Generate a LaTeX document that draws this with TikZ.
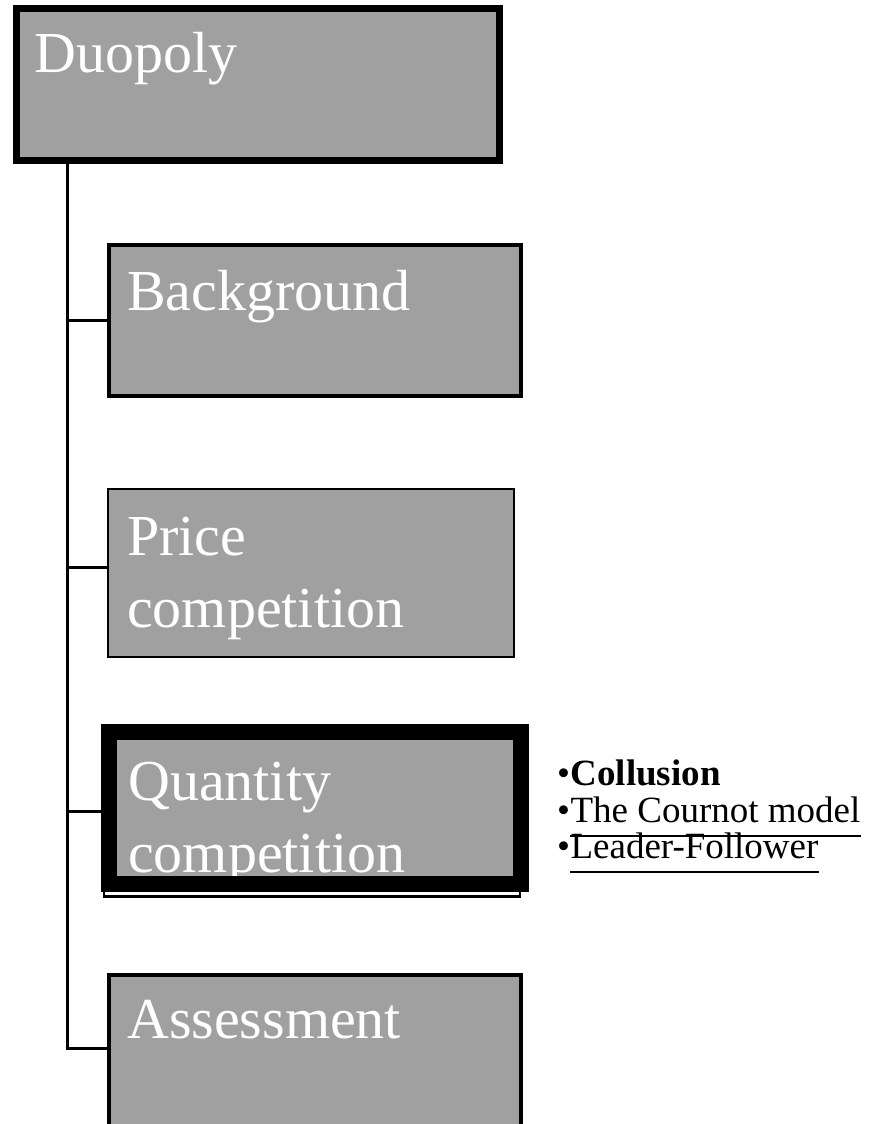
\documentclass[tikz,border=0pt]{standalone}
\usepackage{fontspec}
\setmainfont{Liberation Serif}
\definecolor{boxgray}{HTML}{A0A0A0}
\tikzset{
  box/.style={rectangle, draw=black, fill=boxgray, inner sep=0pt},
  bigtext/.style={text=white, inner sep=0pt, anchor=base west, align=left,
    font=\fontsize{58}{72}\selectfont},
  listtext/.style={text=black, inner sep=0pt, anchor=base west,
    font=\fontsize{37}{37}\selectfont},
  link/.style={line width=3pt, draw=black},
  uline/.style={line width=2pt, draw=black}
}
\begin{document}
\begin{tikzpicture}[x=1pt,y=-1pt]
\useasboundingbox (0,0) rectangle (869,1124);
% boxes
\node[box, line width=7pt, minimum width=483pt, minimum height=151.5pt] (duo) at (258,84.25) {};
\node[box, line width=3.5pt, minimum width=412pt, minimum height=151pt] (bg) at (315,320.5) {};
\node[box, line width=1.5pt, minimum width=406pt, minimum height=168pt] (price) at (311,573) {};
\node[box, draw=none, minimum width=412pt, minimum height=152pt] (qty) at (315,808) {};
\node[box, line width=3.5pt, minimum width=412pt, minimum height=153pt] (asmt) at (315,1051.5) {};
% labels (base anchor of a two-line node is its last line)
\node[bigtext] (tduo) at (34,73) {Duopoly};
\node[bigtext] (tbg) at (127,310) {Background};
\node[bigtext] (tprice) at (127,627) {Price\\competition};
\node[bigtext] (tqty) at (128,872) {Quantity\\competition};
\node[bigtext] (tasmt) at (127,1038) {Assessment};
% thick frame of the current item, drawn over its text
\draw[line width=16pt] (qty.north west) rectangle (qty.south east);
\draw[line width=2.5pt] ([shift={(-5,6)}]qty.south west) -- ([shift={(-5,12.5)}]qty.south west)
  -- ([shift={(-1,12.5)}]qty.south east) -- ([shift={(-1,6)}]qty.south east);
% connectors
\coordinate (top) at (67,160);
\coordinate (j1) at (67,320);
\coordinate (j2) at (67,567);
\coordinate (j3) at (67,811);
\coordinate (j4) at (67,1048);
\draw[link] (top) -- (j4) -- (j4 -| asmt.west);
\draw[link] (j1) -- (j1 -| bg.west);
\draw[link] (j2) -- (j2 -| price.west);
\draw[link] (j3) -- (j3 -| qty.west);
% sub-items
\node[listtext] (b1) at (557,785) {•};
\node[listtext, font=\fontsize{37}{37}\selectfont\bfseries] (l1) at (b1.base east) {Collusion};
\node[listtext] (b2) at (557,822) {•};
\node[listtext] (l2) at (b2.base east) {The Cournot model};
\node[listtext] (b3) at (557,858) {•};
\node[listtext] (l3) at (b3.base east) {Leader-Follower};
\draw[uline] ([yshift=-14pt]l2.base west) -- ([yshift=-14pt]l2.base east);
\draw[uline] ([yshift=-14pt]l3.base west) -- ([yshift=-14pt]l3.base east);
\end{tikzpicture}
\end{document}
